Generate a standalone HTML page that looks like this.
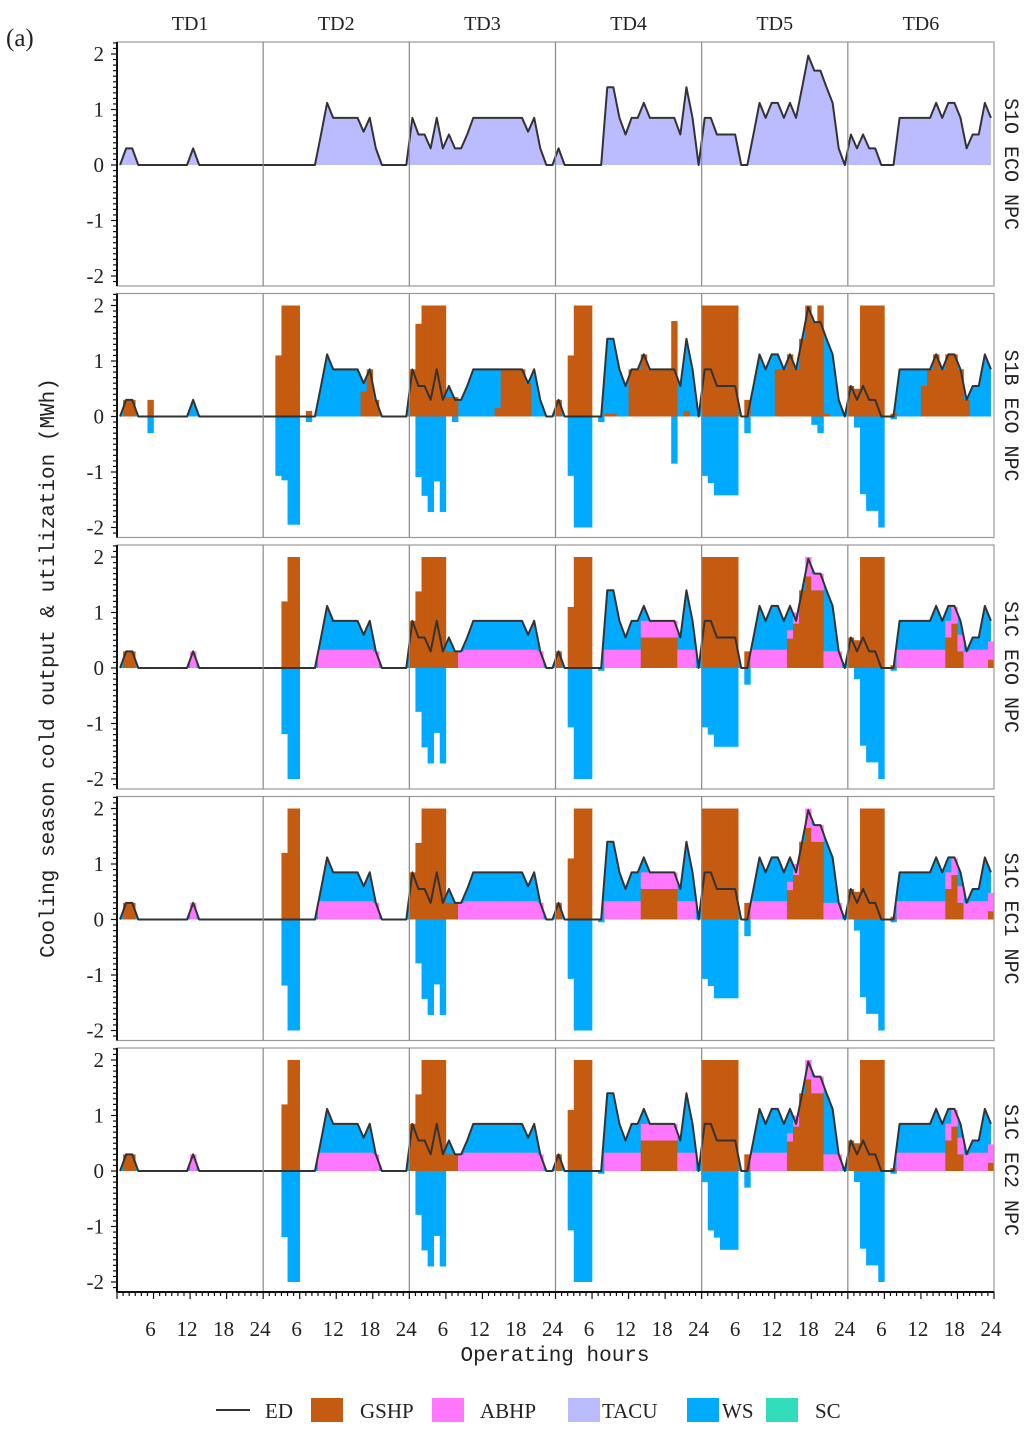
<!DOCTYPE html>
<html><head><meta charset="utf-8"><style>
html,body{margin:0;padding:0;background:#fff;}
svg{display:block;font-family:"Liberation Serif","Noto Serif CJK SC",serif;}
</style></head><body>
<svg id="chart" width="1030" height="1431" viewBox="0 0 1030 1431" xmlns="http://www.w3.org/2000/svg">
<text x="6" y="46" font-size="25" fill="#222">(a)</text>
<text transform="translate(54,668) rotate(-90)" text-anchor="middle" font-size="21" fill="#222" font-family="Liberation Mono, monospace">Cooling season cold output &amp; utilization (MWh)</text>
<text x="555" y="1361" text-anchor="middle" font-size="21" fill="#222" font-family="Liberation Mono, monospace">Operating hours</text>
<g id="plots"></g>
<g id="legend">
 <g><line x1="216" y1="1410" x2="250" y2="1410" stroke="#333" stroke-width="2"/><text x="265" y="1418" font-size="21" fill="#222">ED</text></g>
 <g><rect x="311" y="1398" width="32" height="24" fill="#C55A11"/><text x="360" y="1418" font-size="21" fill="#222">GSHP</text></g>
 <g><rect x="432" y="1398" width="32" height="24" fill="#FF77FF"/><text x="480" y="1418" font-size="21" fill="#222">ABHP</text></g>
 <g><rect x="568" y="1398" width="32" height="24" fill="#BBBBFF"/><text x="602" y="1418" font-size="21" fill="#222">TACU</text></g>
 <g><rect x="687" y="1398" width="32" height="24" fill="#00AAFF"/><text x="722" y="1418" font-size="21" fill="#222">WS</text></g>
 <g><rect x="766" y="1398" width="32" height="24" fill="#33DDBB"/><text x="815" y="1418" font-size="21" fill="#222">SC</text></g>
</g>
</svg>
<script>
const typicalDays = ["TD1","TD2","TD3","TD4","TD5","TD6"];
const scenarios = ["S1O ECO NPC","S1B ECO NPC","S1C ECO NPC","S1C EC1 NPC","S1C EC2 NPC"];
const yTicks = [2,1,0,-1,-2];
const xTickLabels = ["6","12","18","24"];
const ED = [
0,0.3,0.3,0,0,0,0,0,0,0,0,0,0.3,0,0,0,0,0,0,0,0,0,0,0,
0,0,0,0,0,0,0,0,0,0.55,1.12,0.85,0.85,0.85,0.85,0.85,0.6,0.85,0.3,0,0,0,0,0,
0.85,0.55,0.55,0.3,0.85,0.3,0.55,0.3,0.3,0.55,0.85,0.85,0.85,0.85,0.85,0.85,0.85,0.85,0.85,0.6,0.85,0.3,0,0,
0.3,0,0,0,0,0,0,0,1.4,1.4,0.85,0.55,0.85,0.85,1.12,0.85,0.85,0.85,0.85,0.85,0.55,1.4,0.85,0,
0.85,0.85,0.55,0.55,0.55,0.55,0,0,0.55,1.12,0.85,1.12,1.12,0.85,1.12,0.85,1.4,1.97,1.7,1.7,1.4,1.12,0.3,0,
0.55,0.3,0.55,0.3,0.3,0,0,0,0.85,0.85,0.85,0.85,0.85,0.85,1.12,0.85,1.12,1.12,0.85,0.3,0.55,0.55,1.12,0.85];
const gshpS1B = [
0,0.3,0.3,0,0,0.3,0,0,0,0,0,0,0,0,0,0,0,0,0,0,0,0,0,0,
0,0,1.1,2,2,2,0,0.1,0,0,0,0,0,0,0,0,0.45,0.85,0.3,0,0,0,0,0,
0.85,1.67,2,2,2,2,0.35,0.35,0,0,0,0,0,0,0.15,0.85,0.85,0.85,0.85,0.6,0,0,0,0,
0.3,0,1.1,2,2,2,0,0,0.05,0.05,0,0,0.85,0.85,1.12,0.85,0.85,0.85,0.85,1.72,0,0.1,0,0,
2,2,2,2,2,2,0,0.3,0,0,0,0,0.85,0.85,1.12,0.85,1.4,2,1.7,2,0.05,0,0,0,
0.55,0.5,2,2,2,2,0,0.05,0,0,0,0,0.55,0.85,1.12,0.85,1.12,1.12,0.85,0.3,0,0,0,0];
const wsNegS1B = [
0,0,0,0,0,-0.3,0,0,0,0,0,0,0,0,0,0,0,0,0,0,0,0,0,0,
0,0,-1.07,-1.15,-1.95,-1.95,0,-0.1,0,0,0,0,0,0,0,0,0,0,0,0,0,0,0,0,
0,-1.09,-1.43,-1.72,-1.17,-1.72,0,-0.1,0,0,0,0,0,0,0,0,0,0,0,0,0,0,0,0,
0,0,-1.07,-2,-2,-2,0,-0.1,0,0,0,0,0,0,0,0,0,0,0,-0.85,0,0,0,0,
-1.07,-1.2,-1.42,-1.42,-1.42,-1.42,0,-0.3,0,0,0,0,0,0,0,0,0,0,-0.15,-0.3,0,0,0,0,
0,-0.2,-1.4,-1.7,-1.7,-2,0,-0.05,0,0,0,0,0,0,0,0,0,0,0,0,0,0,0,0];
const gshpS1C = [
0,0.3,0.3,0,0,0,0,0,0,0,0,0,0,0,0,0,0,0,0,0,0,0,0,0,
0,0,0,1.2,2,2,0,0,0,0,0,0,0,0,0,0,0,0,0,0,0,0,0,0,
0.85,1.38,2,2,2,2,0.3,0.3,0,0,0,0,0,0,0,0,0,0,0,0,0,0,0,0,
0.3,0,1.1,2,2,2,0,0,0,0,0,0,0,0,0.55,0.55,0.55,0.55,0.55,0.55,0,0,0,0,
2,2,2,2,2,2,0,0.3,0,0,0,0,0,0,0.53,0.8,1.4,1.65,1.4,1.4,0,0,0,0,
0.55,0.5,2,2,2,2,0,0.05,0,0,0,0,0,0,0,0,0.55,0.8,0.3,0,0,0,0,0.15];
const abhpS1C = [
0,0,0,0,0,0,0,0,0,0,0,0,0.3,0,0,0,0,0,0,0,0,0,0,0,
0,0,0,0,0,0,0,0,0,0.33,0.33,0.33,0.33,0.33,0.33,0.33,0.33,0.33,0.3,0,0,0,0,0,
0,0,0,0,0,0,0,0,0.3,0.33,0.33,0.33,0.33,0.33,0.33,0.33,0.33,0.33,0.33,0.33,0.33,0.3,0,0,
0,0,0,0,0,0,0,0,0.33,0.33,0.33,0.33,0.33,0.33,0.3,0.3,0.3,0.3,0.3,0.3,0.33,0.33,0.33,0,
0,0,0,0,0,0,0,0,0.33,0.33,0.33,0.33,0.33,0.33,0.15,0.2,0,0.35,0.3,0.3,0.3,0.3,0.3,0,
0,0,0,0,0,0,0,0,0.33,0.33,0.33,0.33,0.33,0.33,0.33,0.33,0.3,0.3,0.3,0.3,0.33,0.33,0.33,0.33];
const wsNegS1C = [
0,0,0,0,0,0,0,0,0,0,0,0,0,0,0,0,0,0,0,0,0,0,0,0,
0,0,0,-1.19,-2,-2,0,0,0,0,0,0,0,0,0,0,0,0,0,0,0,0,0,0,
0,-0.79,-1.43,-1.72,-1.17,-1.72,0,0,0,0,0,0,0,0,0,0,0,0,0,0,0,0,0,0,
0,0,-1.07,-2,-2,-2,0,-0.05,0,0,0,0,0,0,0,0,0,0,0,0,0,0,0,0,
-1.07,-1.2,-1.42,-1.42,-1.42,-1.42,0,-0.3,0,0,0,0,0,0,0,0,0,0,0,0,0,0,0,0,
0,-0.2,-1.4,-1.7,-1.7,-2,0,-0.05,0,0,0,0,0,0,0,0,0,0,0,0,0,0,0,0];
const wsNegS1CEC2 = [
0,0,0,0,0,0,0,0,0,0,0,0,0,0,0,0,0,0,0,0,0,0,0,0,
0,0,0,-1.19,-2,-2,0,0,0,0,0,0,0,0,0,0,0,0,0,0,0,0,0,0,
0,-0.79,-1.43,-1.72,-1.17,-1.72,0,0,0,0,0,0,0,0,0,0,0,0,0,0,0,0,0,0,
0,0,-1.07,-2,-2,-2,0,-0.05,0,0,0,0,0,0,0,0,0,0,0,0,0,0,0,0,
-0.2,-1.07,-1.2,-1.42,-1.42,-1.42,0,-0.3,0,0,0,0,0,0,0,0,0,0,0,0,0,0,0,0,
0,-0.2,-1.4,-1.7,-1.7,-2,0,-0.05,0,0,0,0,0,0,0,0,0,0,0,0,0,0,0,0];

const rowGshp = [null, gshpS1B, gshpS1C, gshpS1C, gshpS1C];
const rowAbhp = [null, null, abhpS1C, abhpS1C, abhpS1C];
const rowNeg = [null, wsNegS1B, wsNegS1C, wsNegS1C, wsNegS1CEC2];

const NS = "http://www.w3.org/2000/svg";
const L = 117, R = 994, HW = (R - L) / 144, ROWH = 251.5, PH = 244, UNIT = 55.5;
const C = {gshp:"#C55A11", abhp:"#FF77FF", tacu:"#BBBBFF", ws:"#00AAFF"};
const root = document.getElementById("plots");
function mk(tag, attrs, parent){ const e=document.createElementNS(NS,tag); for(const k in attrs) e.setAttribute(k,attrs[k]); (parent||root).appendChild(e); return e; }
function xL(i){ return L + i*HW; }
function xC(i){ return L + (i+0.5)*HW; }
function yS(r, v){ return 42 + r*ROWH + 123 - v*UNIT; }

const defs = mk("defs", {});
for (let r=0;r<5;r++){
  const top = 42 + r*ROWH;
  const cp = mk("clipPath", {id:"clip"+r}, defs);
  mk("rect", {x:L, y:top, width:R-L, height:PH}, cp);
  const g = mk("g", {"clip-path":"url(#clip"+r+")"});
  
  
  // area under ED
  let pts = xC(0)+","+yS(r,0)+" ";
  for (let i=0;i<144;i++) pts += xC(i)+","+yS(r,ED[i])+" ";
  pts += xC(143)+","+yS(r,0);
  const area = mk("polygon", {points:pts, fill: r===0 ? C.tacu : C.ws}, g);
  
  
  if (r>0){
    const gs = rowGshp[r], ab = rowAbhp[r], ng = rowNeg[r];
    for (let i=0;i<144;i++){
      const g0 = gs[i];
      if (g0>0){
        const b = mk("rect", {x:xL(i), y:yS(r,g0), width:HW+0.3, height:g0*UNIT, fill:C.gshp}, g);
        
        
      }
      if (ab && ab[i]>0){
        const b = mk("rect", {x:xL(i), y:yS(r,g0+ab[i]), width:HW+0.3, height:ab[i]*UNIT, fill:C.abhp}, g);
        
        
      }
      if (ng[i]<0){
        const b = mk("rect", {x:xL(i), y:yS(r,0), width:HW+0.3, height:-ng[i]*UNIT, fill:C.ws}, g);
        
        
      }
    }
  }
  let lp = "";
  for (let i=0;i<144;i++) lp += xC(i)+","+yS(r,ED[i])+" ";
  const line = mk("polyline", {points:lp, fill:"none", stroke:"#333", "stroke-width":2, "stroke-linejoin":"round"}, g);
  
  
  // frame
  const fr = mk("rect", {x:L, y:top, width:R-L, height:PH, fill:"none", stroke:"#999", "stroke-width":1.2});
  
  
  for (let d=1; d<6; d++){
    const s = mk("line", {x1:xL(d*24), y1:top, x2:xL(d*24), y2:top+PH, stroke:"#888", "stroke-width":1.2});
    
    
  }
  // left spine
  const sp = mk("line", {x1:L, y1:top, x2:L, y2:top+PH, stroke:"#111", "stroke-width":2});
  
  
  for (let k=-22;k<=22;k++){
    const v = k/10, y = yS(r,v);
    if (y<top || y>top+PH) continue;
    mk("line", {x1:L-(k%10===0?6:4), y1:y, x2:L, y2:y, stroke:"#111", "stroke-width":1.2});
  }
  for (const t of yTicks){
    const tx = mk("text", {x:L-13, y:yS(r,t)+7, "text-anchor":"end", "font-size":21, fill:"#222"});
    tx.textContent = t;
    
    
  }
  const lab = mk("text", {transform:"translate(1005,"+(top+PH/2)+") rotate(90)", "text-anchor":"middle", "font-size":20, fill:"#222", "font-family":"Liberation Mono, monospace"});
  lab.textContent = scenarios[r];
  
  
}
for (let d=0; d<6; d++){
  const t = mk("text", {x:xL(d*24+12), y:30, "text-anchor":"middle", "font-size":20, fill:"#222"});
  t.textContent = typicalDays[d];
  
  
}
// bottom axis
const by = 42 + 4*ROWH + PH;
const ba = mk("line", {x1:L, y1:by, x2:R, y2:by, stroke:"#111", "stroke-width":2});


for (let i=0;i<=144;i++){
  mk("line", {x1:xL(i), y1:by, x2:xL(i), y2:by+(i%6===0?7:4), stroke:"#111", "stroke-width":1.2});
}
for (let d=0; d<6; d++){
  for (let j=0;j<xTickLabels.length;j++){
    const h = Number(xTickLabels[j]);
    const t = mk("text", {x:xC(d*24+h-1), y:by+44, "text-anchor":"middle", "font-size":21, fill:"#222"});
    t.textContent = xTickLabels[j];
    
    
  }
}
</script>
</body></html>
